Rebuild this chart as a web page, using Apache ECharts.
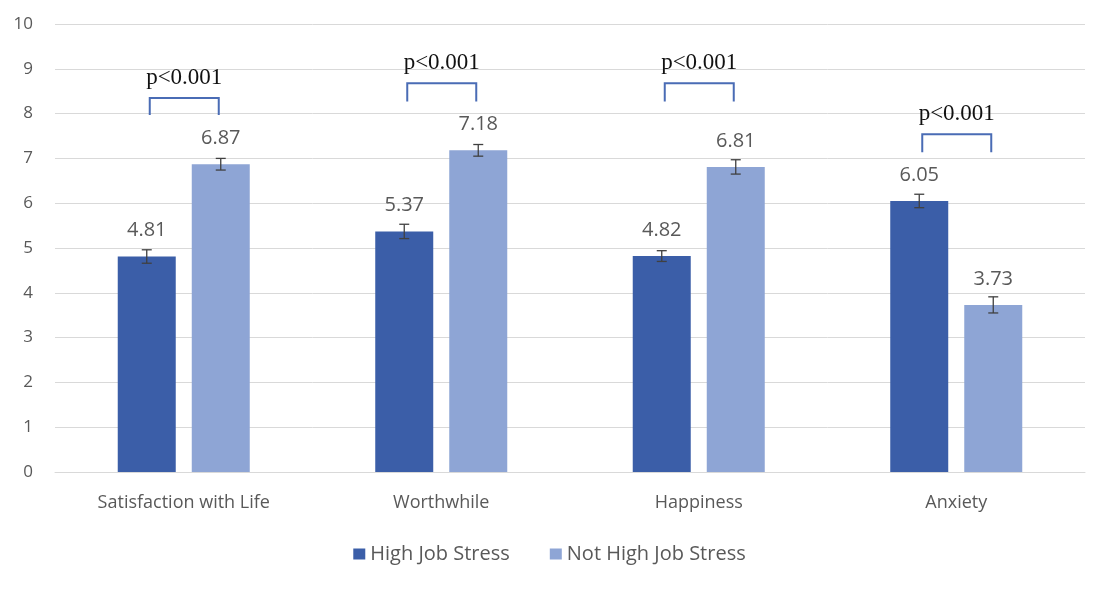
<!DOCTYPE html>
<html><head><meta charset="utf-8">
<script src="https://cdn.jsdelivr.net/npm/echarts@6/dist/echarts.min.js"></script>
<style>html,body{margin:0;padding:0;background:#fff}#c{width:1099px;height:590px}</style>
</head><body><div id="c"></div>
<script>
var categories = ['Satisfaction with Life', 'Worthwhile', 'Happiness', 'Anxiety'];
var seriesNames = ['High Job Stress', 'Not High Job Stress'];
var highStress = [4.81, 5.37, 4.82, 6.05];
var notHighStress = [6.87, 7.18, 6.81, 3.73];
var highStressErr = [0.15, 0.16, 0.12, 0.15];
var notHighStressErr = [0.13, 0.13, 0.16, 0.18];
var bracketTop = [8.35, 8.68, 8.68, 7.54];
var bracketBottom = [7.97, 8.27, 8.27, 7.14];
var bracketLabel = ['p<0.001', 'p<0.001', 'p<0.001', 'p<0.001'];
var yTicks = [0, 1, 2, 3, 4, 5, 6, 7, 8, 9, 10];

var DARK = '#3b5ea8', LIGHT = '#8ea5d5', BR = '#4a6cb5';
var BAR_W = 58, HALF = 37;

function errSeries(vals, errs, off) {
  return {
    type: 'custom', silent: true, z: 5,
    data: vals.map(function (v, i) { return [i, v - errs[i], v + errs[i]]; }),
    renderItem: function (params, api) {
      var lo = api.coord([api.value(0), api.value(1)]);
      var hi = api.coord([api.value(0), api.value(2)]);
      var x = lo[0] + off, w = 5;
      var st = { stroke: '#404040', lineWidth: 1.3 };
      return { type: 'group', children: [
        { type: 'line', shape: { x1: x, y1: lo[1], x2: x, y2: hi[1] }, style: st },
        { type: 'line', shape: { x1: x - w, y1: lo[1], x2: x + w, y2: lo[1] }, style: st },
        { type: 'line', shape: { x1: x - w, y1: hi[1], x2: x + w, y2: hi[1] }, style: st }
      ]};
    }
  };
}

var chart = echarts.init(document.getElementById('c'));
chart.setOption({
  animation: false,
  backgroundColor: '#fff',
  grid: { left: 55, right: 14, top: 24, bottom: 118 },
  legend: {
    data: seriesNames, bottom: 21, left: 'center', itemWidth: 12, itemHeight: 11, itemGap: 40,
    icon: 'rect',
    textStyle: { fontFamily: 'Open Sans', fontSize: 20, color: '#595959' }
  },
  xAxis: {
    type: 'category', data: categories,
    axisLine: { lineStyle: { color: '#d9d9d9' } }, axisTick: { show: false },
    axisLabel: { fontFamily: 'Open Sans', fontSize: 18, color: '#595959', margin: 22 }
  },
  yAxis: {
    type: 'value', min: yTicks[0], max: yTicks[yTicks.length - 1], interval: 1,
    axisLabel: { fontFamily: 'Open Sans', fontSize: 17, color: '#595959', margin: 22 },
    splitLine: { lineStyle: { color: '#d9d9d9', width: 1 } },
    axisLine: { show: false }, axisTick: { show: false }
  },
  series: [
    { name: seriesNames[0], type: 'bar', data: highStress, barWidth: BAR_W, barGap: '27.6%',
      itemStyle: { color: DARK },
      label: { show: true, position: 'top', distance: 16, fontFamily: 'Open Sans', fontSize: 20, color: '#595959', formatter: function (p) { return p.value.toFixed(2); } } },
    { name: seriesNames[1], type: 'bar', data: notHighStress, barWidth: BAR_W,
      itemStyle: { color: LIGHT },
      label: { show: true, position: 'top', distance: 16, fontFamily: 'Open Sans', fontSize: 20, color: '#595959', formatter: function (p) { return p.value.toFixed(2); } } },
    errSeries(highStress, highStressErr, -HALF),
    errSeries(notHighStress, notHighStressErr, HALF),
    {
      type: 'custom', silent: true, z: 6,
      data: bracketTop.map(function (t, i) { return [i, t, bracketBottom[i]]; }),
      renderItem: function (params, api) {
        var i = api.value(0);
        var top = api.coord([i, api.value(1)]);
        var bot = api.coord([i, api.value(2)]);
        var x1 = top[0] - HALF + 3, x2 = top[0] + HALF - 2;
        return { type: 'group', children: [
          { type: 'polyline', shape: { points: [[x1, bot[1]], [x1, top[1]], [x2, top[1]], [x2, bot[1]]] },
            style: { stroke: BR, lineWidth: 2, fill: null } },
          { type: 'text', x: (x1 + x2) / 2, y: top[1] - 20,
            style: { text: bracketLabel[i], fontFamily: 'Liberation Serif', fontSize: 23, fill: '#111', align: 'center', verticalAlign: 'middle' } }
        ]};
      }
    }
  ]
});
</script></body></html>
